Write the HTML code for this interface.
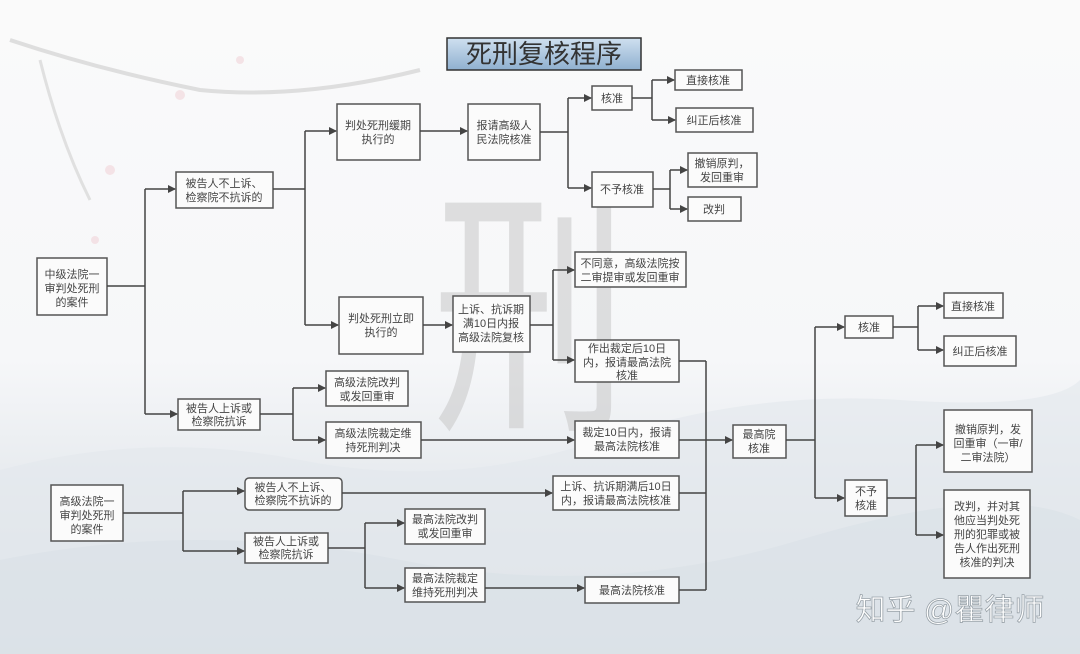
<!DOCTYPE html>
<html><head><meta charset="utf-8"><style>
html,body{margin:0;padding:0;width:1080px;height:654px;overflow:hidden;background:#f7f8f9}
svg text{font-family:"Liberation Sans","Noto Sans CJK SC",sans-serif;font-size:11px;fill:#444;text-anchor:middle}
</style></head><body>
<svg width="1080" height="654" viewBox="0 0 1080 654" xmlns="http://www.w3.org/2000/svg">
<defs>
<linearGradient id="bg" x1="0" y1="0" x2="0" y2="1">
<stop offset="0" stop-color="#fafafa"/><stop offset="0.55" stop-color="#f6f7f9"/><stop offset="0.75" stop-color="#e6eaee"/><stop offset="1" stop-color="#d9dfe4"/></linearGradient>
<linearGradient id="tg" x1="0" y1="0" x2="0" y2="1">
<stop offset="0" stop-color="#cfe0f0"/><stop offset="1" stop-color="#8fb0d0"/></linearGradient>
<marker id="a" markerWidth="8" markerHeight="8" refX="7" refY="4" orient="auto" markerUnits="userSpaceOnUse"><path d="M0,0 L8,4 L0,8 z" fill="#444"/></marker>
</defs>
<rect width="1080" height="654" fill="url(#bg)"/>
<path d="M0,470 Q150,430 300,460 T600,440 T900,400 T1080,380 L1080,654 L0,654 z" fill="#e3e8ec" opacity="0.6"/>
<path d="M0,560 Q200,520 400,560 T800,540 T1080,520 L1080,654 L0,654 z" fill="#d8dfe5" opacity="0.5"/>
<text x="530" y="410" transform="translate(530,410) scale(0.85,1.15) translate(-530,-410)" style="font-size:230px;fill:#c8c8c8;opacity:0.55">刑</text>
<path d="M10,40 Q100,70 200,90 Q300,100 420,70" stroke="#dedede" stroke-width="4" fill="none"/>
<path d="M40,60 Q60,140 90,200" stroke="#e0e0e0" stroke-width="3" fill="none"/>
<g fill="#f2d5da" opacity="0.6"><circle cx="180" cy="95" r="5"/><circle cx="110" cy="170" r="5"/><circle cx="240" cy="60" r="4"/><circle cx="95" cy="240" r="4"/></g>
<!-- title -->
<rect x="447" y="38" width="194" height="32" fill="url(#tg)" stroke="#333" stroke-width="1.5"/>
<text x="544" y="63" style="font-size:26px;fill:#333">死刑复核程序</text>
<g fill="#fbfbfb" stroke="#555" stroke-width="1.5">
<rect x="37" y="258" width="70" height="57"/>
<rect x="176" y="172" width="97" height="36"/>
<rect x="337" y="104" width="83" height="56"/>
<rect x="468" y="104" width="72" height="56"/>
<rect x="592" y="86" width="40" height="24"/>
<rect x="675" y="70" width="67" height="20"/>
<rect x="676" y="108" width="77" height="24"/>
<rect x="592" y="172" width="61" height="35"/>
<rect x="688" y="153" width="69" height="34"/>
<rect x="688" y="197" width="53" height="24"/>
<rect x="339" y="297" width="84" height="57"/>
<rect x="453" y="296" width="77" height="56"/>
<rect x="575" y="252" width="111" height="35"/>
<rect x="575" y="340" width="104" height="42"/>
<rect x="326" y="371" width="82" height="35"/>
<rect x="178" y="399" width="82" height="31"/>
<rect x="326" y="422" width="95" height="36"/>
<rect x="575" y="421" width="104" height="37"/>
<rect x="733" y="425" width="53" height="33"/>
<rect x="845" y="316" width="48" height="22"/>
<rect x="944" y="293" width="59" height="25"/>
<rect x="944" y="336" width="72" height="30"/>
<rect x="944" y="410" width="88" height="62"/>
<rect x="845" y="480" width="42" height="36"/>
<rect x="944" y="490" width="86" height="88"/>
<rect x="51" y="485" width="72" height="56"/>
<rect x="245" y="478" width="97" height="32" rx="4"/>
<rect x="553" y="476" width="126" height="34"/>
<rect x="245" y="533" width="83" height="30"/>
<rect x="405" y="509" width="80" height="35"/>
<rect x="405" y="568" width="80" height="34"/>
<rect x="585" y="577" width="94" height="26"/>
</g>
<g stroke="#444" stroke-width="1.5" fill="none">
<path d="M107,286 H145 M145,189 V414"/><path d="M145,189 H175" marker-end="url(#a)"/><path d="M145,414 H177" marker-end="url(#a)"/>
<path d="M273,189 H305 M305,131 V325"/><path d="M305,131 H336" marker-end="url(#a)"/><path d="M305,325 H338" marker-end="url(#a)"/>
<path d="M420,131 H467" marker-end="url(#a)"/>
<path d="M540,132 H568 M568,98 V188"/><path d="M568,98 H591" marker-end="url(#a)"/><path d="M568,188 H591" marker-end="url(#a)"/>
<path d="M632,98 H652 M652,80 V120"/><path d="M652,80 H674" marker-end="url(#a)"/><path d="M652,120 H675" marker-end="url(#a)"/>
<path d="M653,189 H670 M670,170 V209"/><path d="M670,170 H687" marker-end="url(#a)"/><path d="M670,209 H687" marker-end="url(#a)"/>
<path d="M423,325 H452" marker-end="url(#a)"/>
<path d="M530,325 H553 M553,270 V360"/><path d="M553,270 H574" marker-end="url(#a)"/><path d="M553,360 H574" marker-end="url(#a)"/>
<path d="M260,414 H293 M293,388 V440"/><path d="M293,388 H325" marker-end="url(#a)"/><path d="M293,440 H325" marker-end="url(#a)"/>
<path d="M421,440 H574" marker-end="url(#a)"/>
<path d="M679,361 H706 M706,361 V590 M679,440 H706 M679,493 H706 M679,590 H706"/>
<path d="M706,440 H732" marker-end="url(#a)"/>
<path d="M786,440 H815 M815,327 V498"/><path d="M815,327 H844" marker-end="url(#a)"/><path d="M815,498 H844" marker-end="url(#a)"/>
<path d="M893,327 H918 M918,306 V350"/><path d="M918,306 H943" marker-end="url(#a)"/><path d="M918,350 H943" marker-end="url(#a)"/>
<path d="M887,498 H916 M916,445 V535"/><path d="M916,445 H943" marker-end="url(#a)"/><path d="M916,535 H943" marker-end="url(#a)"/>
<path d="M123,513 H183 M183,491 V551"/><path d="M183,491 H244" marker-end="url(#a)"/><path d="M183,551 H244" marker-end="url(#a)"/>
<path d="M342,493 H552" marker-end="url(#a)"/>
<path d="M328,548 H365 M365,523 V588"/><path d="M365,523 H404" marker-end="url(#a)"/><path d="M365,588 H404" marker-end="url(#a)"/>
<path d="M485,588 H584" marker-end="url(#a)"/>
</g>
<text x="72" y="278">中级法院一</text><text x="72" y="292">审判处死刑</text><text x="72" y="306">的案件</text>
<text x="224" y="187">被告人不上诉、</text><text x="224" y="201">检察院不抗诉的</text>
<text x="378" y="129">判处死刑缓期</text><text x="378" y="143">执行的</text>
<text x="504" y="129">报请高级人</text><text x="504" y="143">民法院核准</text>
<text x="612" y="102">核准</text>
<text x="708" y="84">直接核准</text>
<text x="714" y="124">纠正后核准</text>
<text x="622" y="193">不予核准</text>
<text x="722" y="167">撤销原判，</text><text x="722" y="181">发回重审</text>
<text x="714" y="213">改判</text>
<text x="381" y="322">判处死刑立即</text><text x="381" y="336">执行的</text>
<text x="491" y="313">上诉、抗诉期</text><text x="491" y="327">满10日内报</text><text x="491" y="341">高级法院复核</text>
<text x="630" y="267">不同意，高级法院按</text><text x="630" y="281">二审提审或发回重审</text>
<text x="627" y="352">作出裁定后10日</text><text x="627" y="366">内，报请最高法院</text><text x="627" y="379">核准</text>
<text x="367" y="386">高级法院改判</text><text x="367" y="400">或发回重审</text>
<text x="219" y="412">被告人上诉或</text><text x="219" y="425">检察院抗诉</text>
<text x="373" y="437">高级法院裁定维</text><text x="373" y="451">持死刑判决</text>
<text x="627" y="436">裁定10日内，报请</text><text x="627" y="450">最高法院核准</text>
<text x="759" y="438">最高院</text><text x="759" y="452">核准</text>
<text x="869" y="331">核准</text>
<text x="973" y="310">直接核准</text>
<text x="980" y="355">纠正后核准</text>
<text x="988" y="433">撤销原判，发</text><text x="988" y="447">回重审（一审/</text><text x="988" y="461">二审法院）</text>
<text x="866" y="495">不予</text><text x="866" y="509">核准</text>
<text x="987" y="510">改判，并对其</text><text x="987" y="524">他应当判处死</text><text x="987" y="538">刑的犯罪或被</text><text x="987" y="552">告人作出死刑</text><text x="987" y="566">核准的判决</text>
<text x="87" y="505">高级法院一</text><text x="87" y="519">审判处死刑</text><text x="87" y="533">的案件</text>
<text x="293" y="491">被告人不上诉、</text><text x="293" y="504">检察院不抗诉的</text>
<text x="616" y="490">上诉、抗诉期满后10日</text><text x="616" y="504">内，报请最高法院核准</text>
<text x="286" y="545">被告人上诉或</text><text x="286" y="558">检察院抗诉</text>
<text x="445" y="523">最高法院改判</text><text x="445" y="537">或发回重审</text>
<text x="445" y="582">最高法院裁定</text><text x="445" y="596">维持死刑判决</text>
<text x="632" y="594">最高法院核准</text>
<text x="950" y="620" style="font-size:30px;fill:#ffffff;stroke:#9aa3aa;stroke-width:0.8">知乎 @瞿律师</text>
</svg>
</body></html>
